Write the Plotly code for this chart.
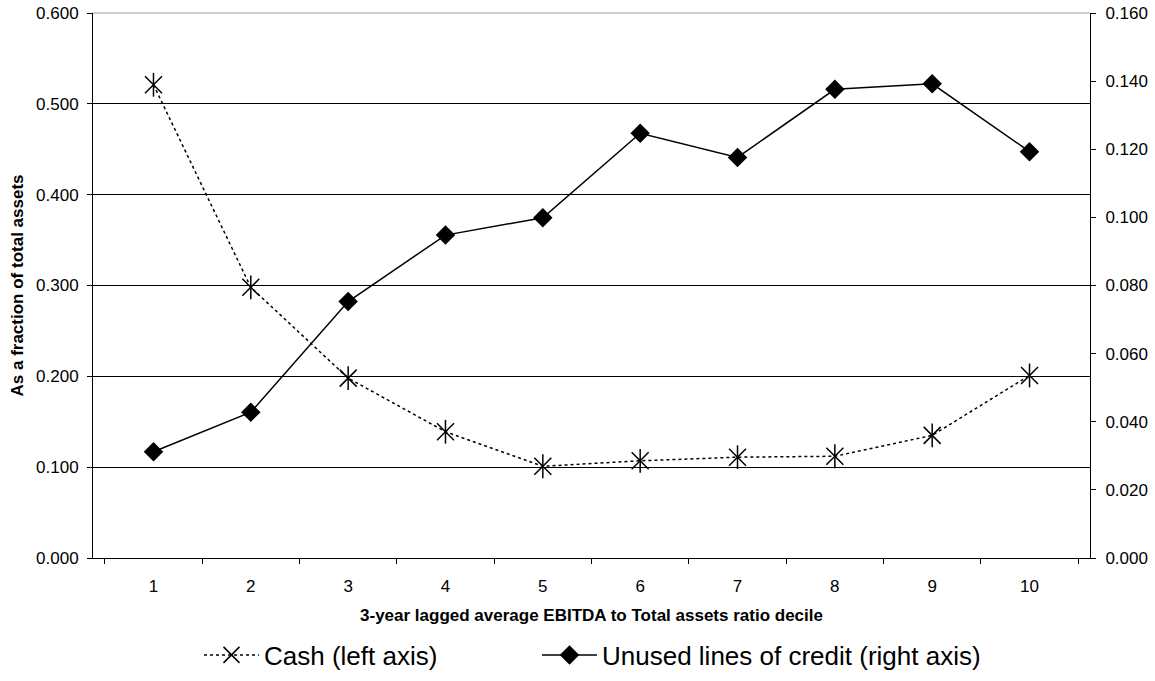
import plotly.graph_objects as go

deciles = ["1", "2", "3", "4", "5", "6", "7", "8", "9", "10"]
cash = [0.521, 0.298, 0.198, 0.139, 0.101, 0.107, 0.111, 0.112, 0.135, 0.201]
unused_credit = [0.0312, 0.0428, 0.0753, 0.0948, 0.0999, 0.1247, 0.1176, 0.1376, 0.1392, 0.1193]

left_ticks = [0.0, 0.1, 0.2, 0.3, 0.4, 0.5, 0.6]
right_ticks = [0.0, 0.02, 0.04, 0.06, 0.08, 0.10, 0.12, 0.14, 0.16]

FONT = "Arial, Liberation Sans, sans-serif"
L, R, T, B = 93, 65, 13, 123
W, H = 1155, 681
PW = W - L - R
PH = H - T - B


def px_x(x):
    return (x - L) / PW


def px_y(y):
    return (H - B - y) / PH


fig = go.Figure()

fig.add_trace(go.Scatter(
    x=deciles, y=cash, name="Cash (left axis)", mode="lines+markers",
    line=dict(color="black", width=1.5, dash="dot"),
    marker=dict(symbol="x-thin-open", size=17, color="black",
                line=dict(width=1.5, color="black")),
    yaxis="y", legend="legend",
))
fig.add_trace(go.Scatter(
    x=deciles, y=cash, name="Cash (left axis)", mode="markers",
    marker=dict(symbol="line-ns-open", size=17, color="black",
                line=dict(width=1.5, color="black")),
    yaxis="y", showlegend=False, hoverinfo="skip",
))
fig.add_trace(go.Scatter(
    x=deciles, y=unused_credit, name="Unused lines of credit (right axis)",
    mode="lines+markers",
    line=dict(color="black", width=1.5),
    marker=dict(symbol="diamond", size=15, color="black"),
    yaxis="y2", legend="legend2",
))

legend_common = dict(
    orientation="h", yanchor="middle", xanchor="left",
    font=dict(size=26, family=FONT, color="black"),
    bgcolor="rgba(0,0,0,0)", itemwidth=55,
)

fig.update_layout(
    width=W, height=H,
    margin=dict(l=L, r=R, t=T, b=B, autoexpand=False),
    paper_bgcolor="white", plot_bgcolor="white",
    font=dict(family=FONT, size=17, color="black"),
    showlegend=True,
    legend=dict(x=px_x(199), y=px_y(655), **legend_common),
    legend2=dict(x=px_x(537), y=px_y(655), **legend_common),
    xaxis=dict(
        type="category", tickson="boundaries", ticks="outside", ticklen=5,
        tickcolor="black", showline=True, linecolor="black", linewidth=1,
        showgrid=False, zeroline=False, automargin=False,
        tickfont=dict(size=17), ticklabelstandoff=13,
        title=dict(text="<b>3-year lagged average EBITDA to Total assets ratio decile</b>",
                   font=dict(size=17), standoff=13),
    ),
    yaxis=dict(
        range=[0, 0.6], tickvals=left_ticks, tickformat=".3f",
        ticks="outside", ticklen=5, tickcolor="black",
        showline=True, linecolor="black", linewidth=1,
        showgrid=True, gridcolor="black", gridwidth=1, zeroline=False,
        automargin=False, tickfont=dict(size=17), ticklabelstandoff=5,
        ticklabeloverflow="allow",
        title=dict(text="<b>As a fraction of total assets</b>", font=dict(size=17), standoff=8),
    ),
    yaxis2=dict(
        range=[0, 0.16], tickvals=right_ticks, tickformat=".3f",
        overlaying="y", side="right",
        ticks="outside", ticklen=5, tickcolor="black",
        showline=True, linecolor="black", linewidth=1,
        showgrid=False, zeroline=False, automargin=False,
        tickfont=dict(size=17), ticklabelstandoff=6,
        ticklabeloverflow="allow",
    ),
    shapes=[dict(type="line", xref="paper", yref="paper", x0=0, x1=1, y0=1, y1=1,
                 line=dict(color="#a0a0a0", width=1), layer="above")],
)

fig.write_html(
    "out.html",
    config={"displayModeBar": False},
    post_script="document.body.style.margin='0';document.body.style.overflow='hidden';",
)
